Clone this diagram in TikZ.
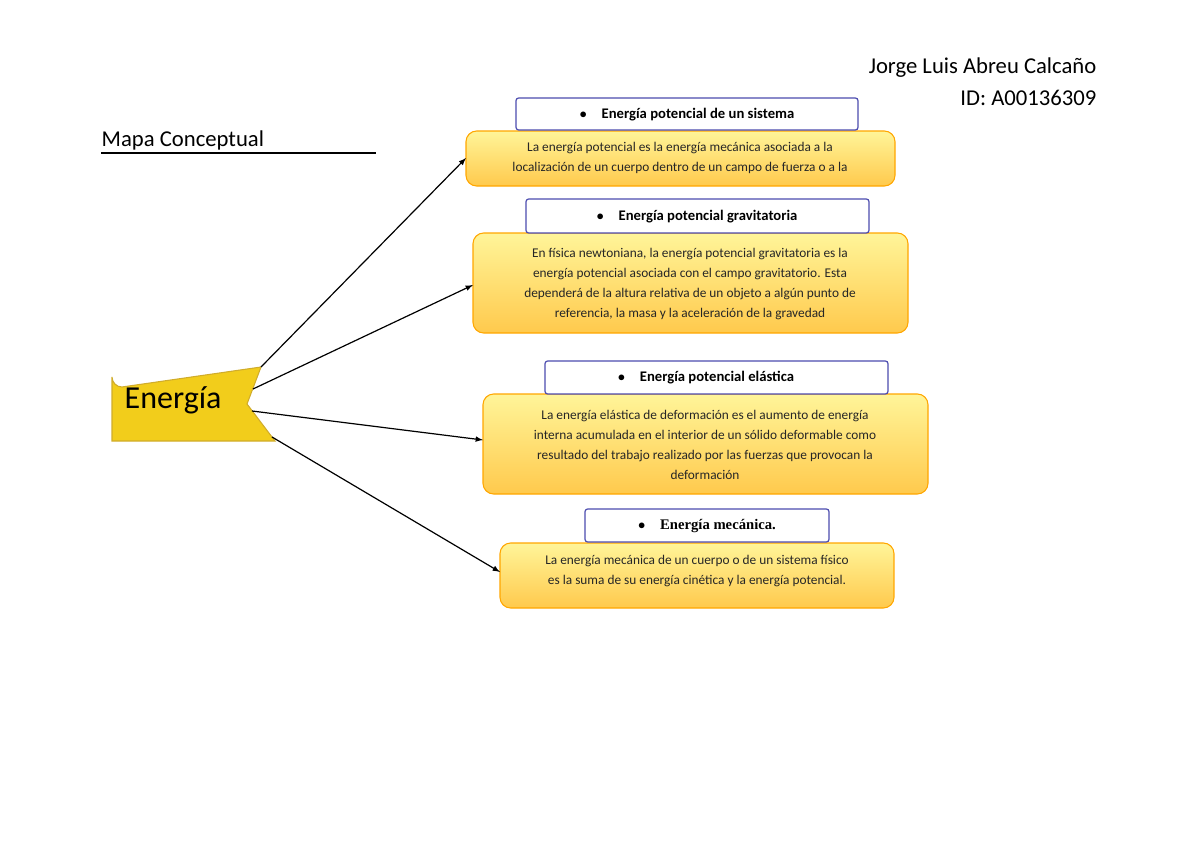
\documentclass[tikz,border=0pt]{standalone}
\usepackage{fontspec}
\setmainfont{Carlito}
\newfontfamily\serifb{Liberation Serif}
\begin{document}
\begin{tikzpicture}[x=0.75pt,y=-0.75pt,
 ttl/.style={draw=blue!55!black!70,line width=0.9pt,fill=white,rounded corners=2pt},
 cnt/.style={draw=orange!70!yellow,line width=0.8pt,rounded corners=8pt,top color=orange!20!yellow!40,bottom color=orange!60!yellow!70},
 arr/.style={-latex,line width=0.9pt},
 txt/.style={font=\fontsize{10}{15}\selectfont,align=center,text=black!85}]
\useasboundingbox (0,0) rectangle (1200,849);
\node[anchor=east,font=\fontsize{17}{20}\selectfont] (h1) at (1101,68) {Jorge Luis Abreu Calcaño};
\node[anchor=east,font=\fontsize{17}{20}\selectfont] (h2) at (1101,98) {ID: A00136309};
\node[anchor=west,font=\fontsize{17}{20}\selectfont] (mc) at (97,140) {Mapa Conceptual};
\draw[line width=0.8pt] (101,153) -- (376,153);
% Energia
\draw[fill=yellow!70!orange!95!black!95,draw=yellow!60!orange!80!black,line width=0.8pt]
 (112,377) arc[start angle=180,end angle=90,radius=10] -- (261,367) -- (247,404) -- (275,441) -- (112,441) -- cycle;
\node[anchor=west,font=\fontsize{24}{28}\selectfont] (en) at (120,400) {Energía};
\coordinate (e1) at (261,367);
\coordinate (e2) at (253,389);
\coordinate (e3) at (252,411);
\coordinate (e4) at (272,437);
% boxes
\draw[cnt] (466,131) rectangle (895,186);
\node[txt] (c1) at (680,158) {La energía potencial es la energía mecánica asociada a la\\localización de un cuerpo dentro de un campo de fuerza o a la};
\draw[ttl] (516,98) rectangle (858,130);
\node[font=\bfseries\fontsize{11}{13}\selectfont] (t1) at (687,115) {$\bullet$\quad Energía potencial de un sistema};
\draw[cnt] (473,233) rectangle (908,333);
\node[txt] (c2) at (690,284) {En física newtoniana, la energía potencial gravitatoria es la\\energía potencial asociada con el campo gravitatorio. Esta\\dependerá de la altura relativa de un objeto a algún punto de\\referencia, la masa y la aceleración de la gravedad};
\draw[ttl] (526,199) rectangle (869,233);
\node[font=\bfseries\fontsize{11}{13}\selectfont] (t2) at (697,217) {$\bullet$\quad Energía potencial gravitatoria};
\draw[cnt] (483,394) rectangle (928,494);
\node[txt] (c3) at (705,445) {La energía elástica de deformación es el aumento de energía\\interna acumulada en el interior de un sólido deformable como\\resultado del trabajo realizado por las fuerzas que provocan la\\deformación};
\draw[ttl] (545,361) rectangle (888,394);
\node[font=\bfseries\fontsize{11}{13}\selectfont] (t3) at (706,378) {$\bullet$\quad Energía potencial elástica};
\draw[cnt] (500,543) rectangle (894,608);
\node[txt] (c4) at (697,571) {La energía mecánica de un cuerpo o de un sistema físico\\es la suma de su energía cinética y la energía potencial.};
\draw[ttl] (585,509) rectangle (829,542);
\node[font=\serifb\bfseries\fontsize{11}{13}\selectfont] (t4) at (707,526) {$\bullet$\quad Energía mecánica.};
\draw[arr] (e1) -- (466,158);
\draw[arr] (e2) -- (473,285);
\draw[arr] (e3) -- (483,440);
\draw[arr] (e4) -- (500,572);
\end{tikzpicture}
\end{document}
